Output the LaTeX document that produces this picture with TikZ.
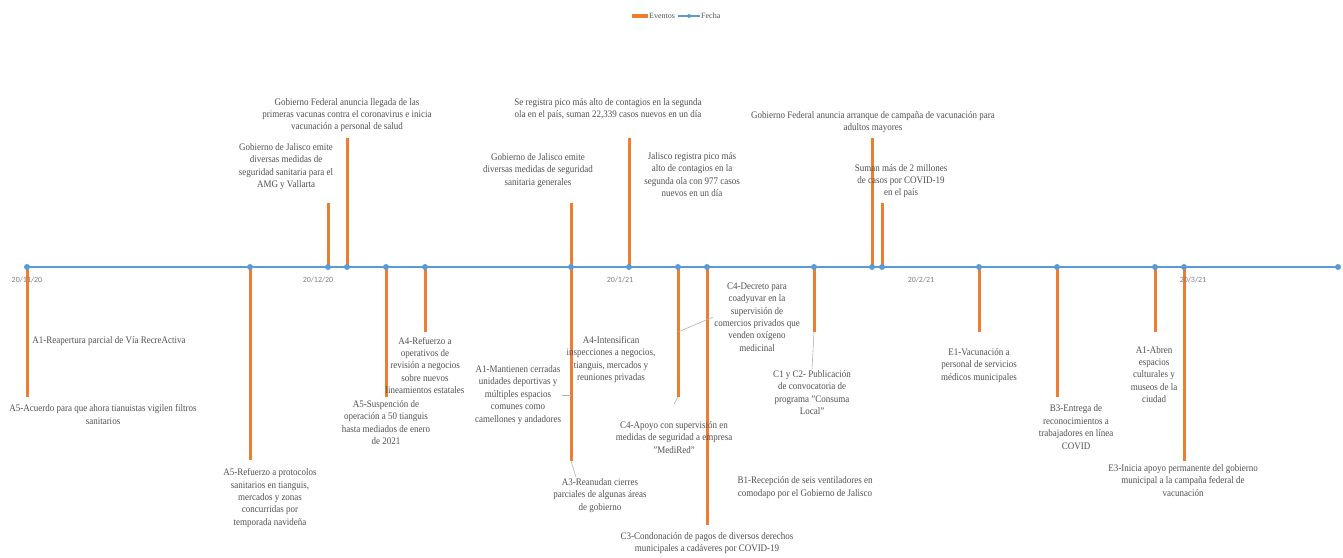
\documentclass[tikz,border=0pt]{standalone}
\usepackage{fontspec}
\setmainfont{Liberation Serif}
\newfontfamily\datefont{Carlito}
\usetikzlibrary{positioning}
\usetikzlibrary{calc}

\definecolor{evento}{HTML}{ED7D31}
\definecolor{fecha}{HTML}{5B9BD5}
\definecolor{texto}{HTML}{505050}

\begin{document}
\begin{tikzpicture}[x=1pt, y=-1pt,
    bar/.style={draw=evento, line width=3pt},
    axis/.style={draw=fecha, line width=2.8pt},
    marker/.style={circle, fill=fecha, inner sep=0pt, minimum size=6pt},
    evt/.style={text=texto, align=center, font=\fontsize{10}{12.4}\selectfont, inner sep=1pt, xscale=0.9},
    datelabel/.style={text=gray, font=\datefont\fontsize{8}{9}\selectfont, inner sep=0pt},
    leader/.style={draw=gray!60, line width=0.6pt}]
    \useasboundingbox (0,0) rectangle (1343,557);

    \foreach \n/\x in {1/27, 2/250, 3/328, 4/347, 5/386, 6/425, 7/571, 8/629, 9/678,
        10/707, 11/814, 12/872, 13/882, 14/979, 15/1057, 16/1155, 17/1184, 18/1338}
        \coordinate (d\n) at (\x,267);

    \coordinate (e1) at (27,397);
    \coordinate (e2) at (250,460);
    \coordinate (e3) at (328,203);
    \coordinate (e4) at (347,138);
    \coordinate (e5) at (386,397);
    \coordinate (e6) at (425,332);
    \coordinate (e7) at (571,203);
    \coordinate (e7b) at (571,461);
    \coordinate (e7c) at (571,395);
    \coordinate (e8) at (629,138);
    \coordinate (e9) at (678,397);
    \coordinate (e9b) at (678,332);
    \coordinate (e10) at (707,525);
    \coordinate (e11) at (814,332);
    \coordinate (e12) at (872,138);
    \coordinate (e13) at (882,203);
    \coordinate (e14) at (979,332);
    \coordinate (e15) at (1057,397);
    \coordinate (e16) at (1155,332);
    \coordinate (e17) at (1184,461);

    \foreach \n in {1,2,3,4,5,6,7,7b,8,9,10,11,12,13,14,15,16,17}
        \draw[bar] (e\n |- d1) -- (e\n);
    \draw[axis] (d1) -- (d18);
    \foreach \n in {1,...,18}
        \node[marker] (m\n) at (d\n) {};

    \node[datelabel] (t1) at (27,280) {20/11/20};
    \node[datelabel] (t2) at (318,280) {20/12/20};
    \node[datelabel] (t3) at (620,280) {20/1/21};
    \node[datelabel] (t4) at (921,280) {20/2/21};
    \node[datelabel] (t5) at (1193,280) {20/3/21};

    \node[evt] (reapertura) at (109,341) {A1-Reapertura parcial de Vía RecreActiva};
    \node[evt] (acuerdo) at (103,414.5) {A5-Acuerdo para que ahora tianuistas vigilen filtros\\sanitarios};
    \node[evt] (protocolos) at (270,498) {A5-Refuerzo a protocolos\\sanitarios en tianguis,\\mercados y zonas\\concurridas por\\temporada navideña};
    \node[evt] (jalAMG) at (286,166.5) {Gobierno de Jalisco emite\\diversas medidas de\\seguridad sanitaria para el\\AMG y Vallarta};
    \node[evt] (vacunas) at (347,115) {Gobierno Federal anuncia llegada de las\\primeras vacunas contra el coronavirus e inicia\\vacunación a personal de salud};
    \node[evt] (suspension) at (386,422.5) {A5-Suspención de\\operación a 50 tianguis\\hasta mediados de enero\\de 2021};
    \node[evt] (operativos) at (425,365.5) {A4-Refuerzo a\\operativos de\\revisión a negocios\\sobre nuevos\\lineamientos estatales};
    \node[evt] (jalGen) at (538,170.5) {Gobierno de Jalisco emite\\diversas medidas de seguridad\\sanitaria generales};
    \node[evt] (mantienen) at (518,395) {A1-Mantienen cerradas\\unidades deportivas y\\múltiples espacios\\comunes como\\camellones y andadores};
    \node[evt] (reanudan) at (600,495.5) {A3-Reanudan cierres\\parciales de algunas áreas\\de gobierno};
    \node[evt] (picoPais) at (608,109) {Se registra pico más alto de contagios en la segunda\\ola en el país, suman 22,339 casos nuevos en un día};
    \node[evt] (picoJal) at (692,174.5) {Jalisco registra pico más\\alto de contagios en la\\segunda ola con 977 casos\\nuevos en un día};
    \node[evt] (intensifican) at (611,359.5) {A4-Intensifican\\inspecciones a negocios,\\tianguis, mercados y\\reuniones privadas};
    \node[evt] (apoyo) at (674,437.5) {C4-Apoyo con supervisión en\\medidas de seguridad a empresa\\"MediRed"};
    \node[evt] (decreto) at (757,317) {C4-Decreto para\\coadyuvar en la\\supervisión de\\comercios privados que\\venden oxígeno\\medicinal};
    \node[evt] (condonacion) at (707,543) {C3-Condonación de pagos de diversos derechos\\municipales a cadáveres por COVID-19};
    \node[evt] (recepcion) at (805,487.5) {B1-Recepción de seis ventiladores en\\comodapo por el Gobierno de Jalisco};
    \node[evt] (consuma) at (812,392.5) {C1 y C2- Publicación\\de convocatoria de\\programa "Consuma\\Local"};
    \node[evt] (arranque) at (873,122) {Gobierno Federal anuncia arranque de campaña de vacunación para\\adultos mayores};
    \node[evt] (millones) at (901,181) {Suman más de 2 millones\\de casos por COVID-19\\en el país};
    \node[evt] (vacMedicos) at (979,365.5) {E1-Vacunación a\\personal de servicios\\médicos municipales};
    \node[evt] (entrega) at (1076,427) {B3-Entrega de\\reconocimientos a\\trabajadores en línea\\COVID};
    \node[evt] (abren) at (1154,374.5) {A1-Abren\\espacios\\culturales y\\museos de la\\ciudad};
    \node[evt] (campania) at (1183,480.5) {E3-Inicia apoyo permanente del gobierno\\municipal a la campaña federal de\\vacunación};

    \coordinate (r3) at (576,477);
    \coordinate (a9) at (674,404);
    \draw[leader] (e7b) -- (r3);
    \draw[leader] (mantienen.east) -- (e7c);
    \draw[leader] (e9b) -- (decreto.west);
    \draw[leader] (e9) -- (a9);
    \draw[leader] (e11) -- (consuma.north);

    \coordinate (le1) at (632,16);
    \coordinate (le2) at (648,16);
    \coordinate (lf1) at (678,16);
    \coordinate (lf2) at (700,16);
    \draw[draw=evento, line width=4pt] (le1) -- (le2);
    \node[text=texto, font=\fontsize{8}{9}\selectfont, anchor=west, inner sep=1pt] (legEventos) at (le2) {Eventos};
    \draw[draw=fecha, line width=2pt] (lf1) -- (lf2);
    \node[marker, minimum size=4pt] (legMarker) at ($(lf1)!0.5!(lf2)$) {};
    \node[text=texto, font=\fontsize{8}{9}\selectfont, anchor=west, inner sep=1pt] (legFecha) at (lf2) {Fecha};
\end{tikzpicture}
\end{document}
